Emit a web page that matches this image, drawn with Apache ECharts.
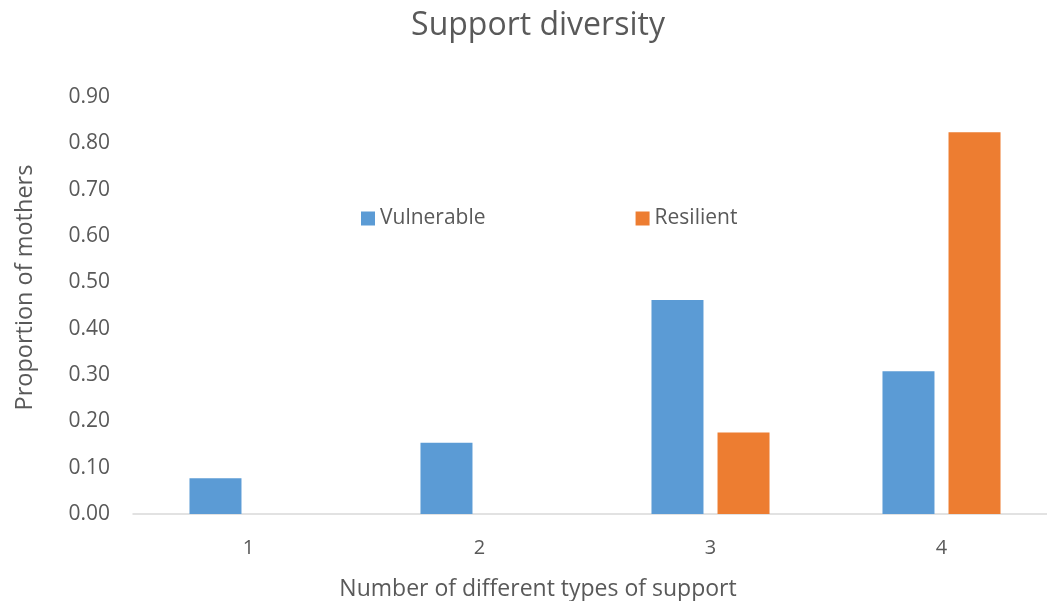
<!DOCTYPE html>
<html>
<head>
<meta charset="utf-8">
<script src="https://cdn.jsdelivr.net/npm/echarts@6/dist/echarts.min.js"></script>
<style>
  html, body { margin: 0; padding: 0; background: #fff; }
  #chart { width: 1047px; height: 601px; }
</style>
</head>
<body>
<div id="chart"></div>
<script>
var categories = ['1', '2', '3', '4'];
var vulnerable = [0.077, 0.154, 0.462, 0.308];
var resilient = [0, 0, 0.176, 0.824];
var seriesNames = ['Vulnerable', 'Resilient'];

var font = '"Open Sans", sans-serif';
var grey = '#595959';

var myChart = echarts.init(document.getElementById('chart'));

myChart.setOption({
    animation: false,
    textStyle: { fontFamily: font },
    title: {
        text: 'Support diversity',
        left: 533,
        top: 5,
        textAlign: 'center',
        textStyle: { fontFamily: font, fontSize: 32, fontWeight: 'normal', color: grey }
    },
    legend: {
        data: seriesNames,
        left: 356,
        top: 203,
        itemWidth: 14,
        itemHeight: 14,
        itemGap: 150,
        icon: 'rect',
        textStyle: { fontFamily: font, fontSize: 21, color: grey }
    },
    grid: { left: 133, top: 97, right: -10, bottom: 87, outerBoundsMode: 'none' },
    xAxis: {
        type: 'category',
        data: categories,
        name: 'Number of different types of support',
        nameLocation: 'middle',
        nameGap: 64,
        nameTextStyle: { fontFamily: font, fontSize: 23, color: grey, padding: [0, 114, 0, 0] },
        axisLine: { lineStyle: { color: '#d9d9d9', width: 1.5 } },
        axisTick: { show: false },
        axisLabel: { margin: 24, fontSize: 20, color: grey }
    },
    yAxis: {
        type: 'value',
        min: 0,
        max: 0.9,
        interval: 0.1,
        name: 'Proportion of mothers',
        nameLocation: 'middle',
        nameGap: 96,
        nameTextStyle: { fontFamily: font, fontSize: 23.5, color: grey, padding: [0, 0, 0, 36] },
        axisLine: { show: false },
        axisTick: { show: false },
        splitLine: { show: false },
        axisLabel: {
            margin: 23,
            fontSize: 21,
            color: grey,
            formatter: function (v) { return v.toFixed(2); }
        }
    },
    series: [
        {
            name: seriesNames[0],
            type: 'bar',
            data: vulnerable,
            barWidth: 52,
            barGap: '27%',
            itemStyle: { color: '#5b9bd5' }
        },
        {
            name: seriesNames[1],
            type: 'bar',
            data: resilient,
            barWidth: 52,
            itemStyle: { color: '#ed7d31' }
        }
    ]
});
</script>
</body>
</html>
